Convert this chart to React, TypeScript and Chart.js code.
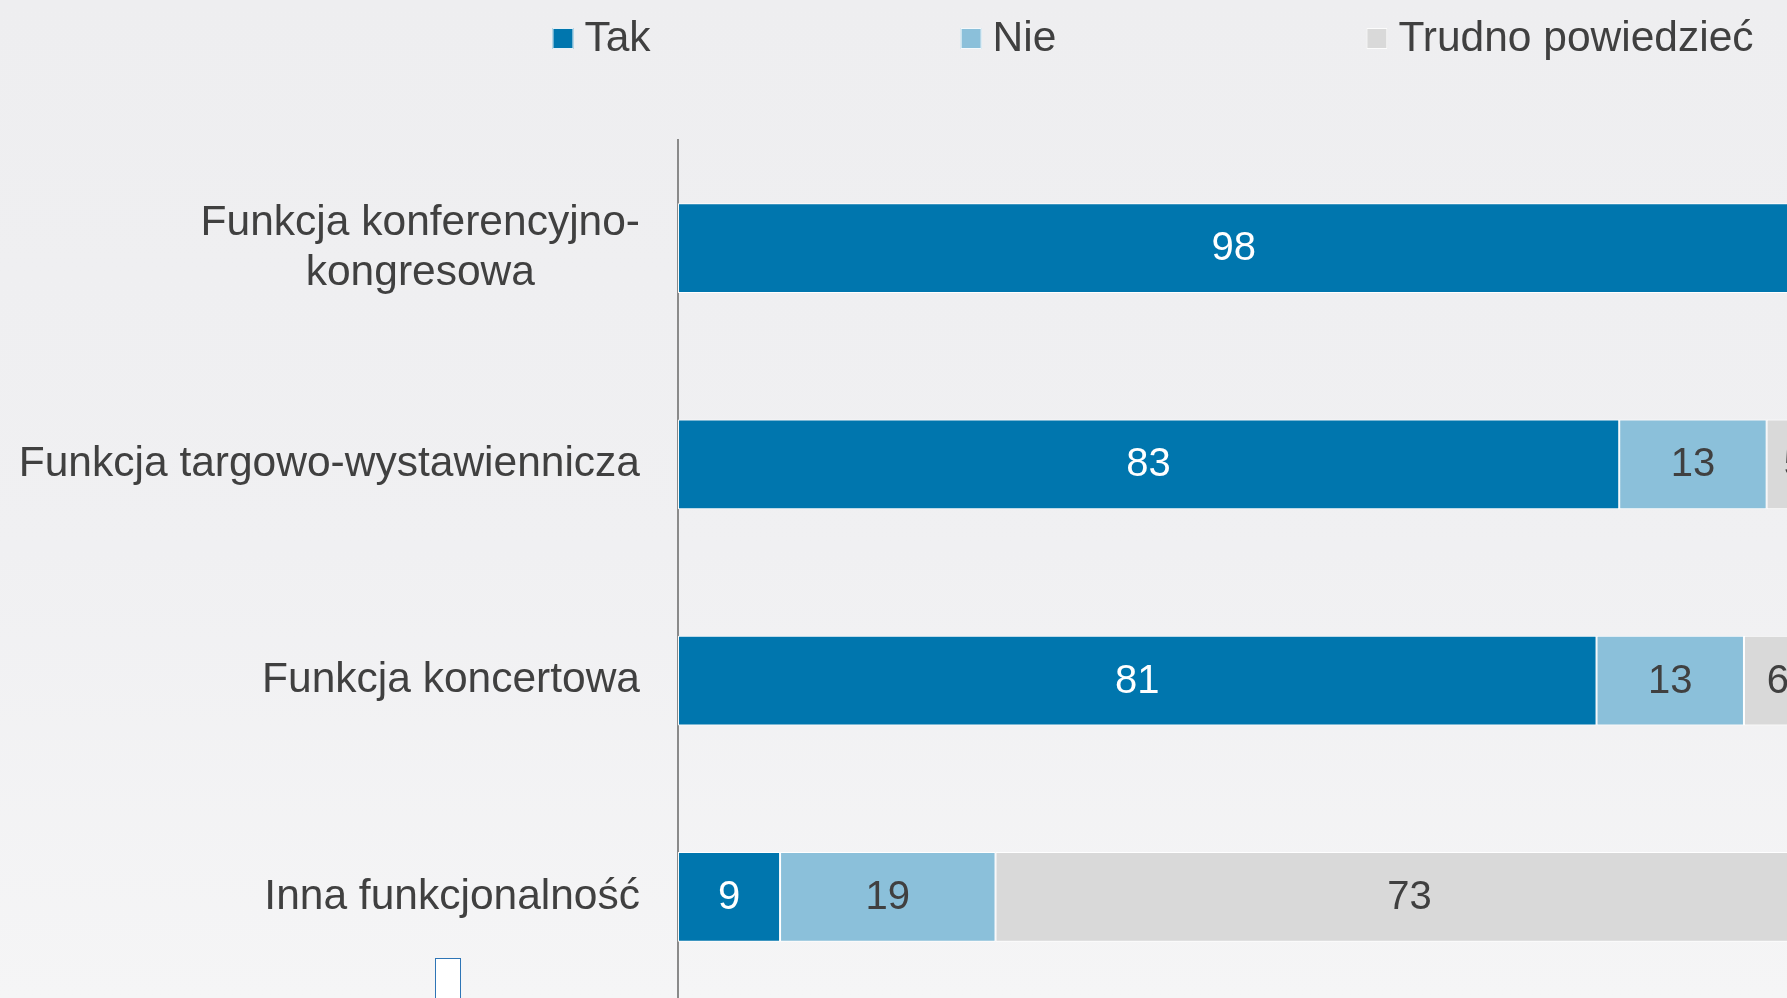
import React, { useEffect, useRef } from 'react';
import { Chart, registerables } from 'chart.js';

Chart.register(...registerables);

const categories: string[][] = [
  ['Funkcja konferencyjno-', 'kongresowa'],
  ['Funkcja targowo-wystawiennicza'],
  ['Funkcja koncertowa'],
  ['Inna funkcjonalność'],
];
const seriesNames = ['Tak', 'Nie', 'Trudno powiedzieć'];
const takValues = [98, 83, 81, 9];
const nieValues = [1, 13, 13, 19];
const trudnoValues = [1, 5, 6, 73];
const seriesColors = ['#0076ae', '#8bc0da', '#d9d9d9'];
const valueLabelColors = ['#ffffff', '#404040', '#404040'];

const FONT = '"Liberation Sans", Arial, Helvetica, sans-serif';
const TEXT = '#404040';

const decorPlugin = {
  id: 'decor',
  afterDatasetsDraw(chart: any) {
    const ctx = chart.ctx;
    ctx.save();
    ctx.font = `40px ${FONT}`;
    ctx.textAlign = 'center';
    ctx.textBaseline = 'middle';
    chart.data.datasets.forEach((ds: any, di: number) => {
      const meta = chart.getDatasetMeta(di);
      meta.data.forEach((bar: any, i: number) => {
        const v = ds.data[i];
        if (v < 3) return;
        const p = bar.getProps(['x', 'base', 'y'], true);
        ctx.fillStyle = valueLabelColors[di];
        ctx.fillText(String(v), (p.x + p.base) / 2, p.y + 1);
      });
    });
    ctx.restore();
  },
  afterDraw(chart: any) {
    const ctx = chart.ctx;
    const area = chart.chartArea;
    const yScale = chart.scales.y;
    // category labels
    ctx.save();
    ctx.font = `42.5px ${FONT}`;
    ctx.fillStyle = TEXT;
    ctx.textBaseline = 'middle';
    ctx.textAlign = 'center';
    const right = area.left - 38;
    categories.forEach((lines, i) => {
      const cy = yScale.getPixelForValue(i);
      const bw = Math.max(...lines.map((l) => ctx.measureText(l).width));
      const cx = right - bw / 2;
      lines.forEach((l, j) => {
        const ty = cy + (j - (lines.length - 1) / 2) * 50;
        ctx.fillText(l, cx, ty);
      });
    });
    ctx.restore();

    // legend
    ctx.save();
    ctx.font = `42.5px ${FONT}`;
    ctx.textBaseline = 'alphabetic';
    ctx.textAlign = 'left';
    const box = 21;
    const gapText = 11;
    const gapItem = 310;
    const widths = chart.data.datasets.map(
      (ds: any) => box + gapText + ctx.measureText(ds.label).width
    );
    const total = widths.reduce((a: number, b: number) => a + b, 0) + gapItem * (widths.length - 1);
    const center = (area.left + area.right) / 2 - 92;
    let x = center - total / 2;
    chart.data.datasets.forEach((ds: any, di: number) => {
      ctx.fillStyle = ds.backgroundColor;
      ctx.fillRect(x, 28, box, box);
      ctx.strokeStyle = 'rgba(255,255,255,0.9)';
      ctx.lineWidth = 1;
      ctx.strokeRect(x + 0.5, 28.5, box - 1, box - 1);
      ctx.fillStyle = TEXT;
      ctx.fillText(ds.label, x + box + gapText, 51);
      x += widths[di] + gapItem;
    });
    ctx.restore();
  },
};

export default function App() {
  const canvasRef = useRef<HTMLCanvasElement | null>(null);

  useEffect(() => {
    if (!canvasRef.current) return;
    const seriesValues = [takValues, nieValues, trudnoValues];
    const chart = new Chart(canvasRef.current, {
      type: 'bar',
      data: {
        labels: categories.map((c) => c.join(' ')),
        datasets: seriesNames.map((name, i) => ({
          label: name,
          data: seriesValues[i],
          backgroundColor: seriesColors[i],
          borderColor: 'rgba(255,255,255,0.95)',
          borderWidth: 1,
          borderSkipped: false,
          categoryPercentage: 1,
          barPercentage: 0.416,
        })),
      },
      options: {
        animation: false,
        responsive: true,
        maintainAspectRatio: false,
        indexAxis: 'y',
        layout: { padding: { top: 140, left: 0, right: 0, bottom: 0 } },
        plugins: {
          legend: { display: false },
          tooltip: { enabled: false },
        },
        scales: {
          x: { stacked: true, min: 0, max: 100, display: false },
          y: {
            stacked: true,
            grid: { display: false, drawTicks: false },
            border: { display: true, color: '#8a8a8a', width: 2 },
            ticks: { display: false },
            afterFit: (s: any) => {
              s.width = 678;
            },
          },
        },
      },
      plugins: [decorPlugin],
    } as any);
    return () => chart.destroy();
  }, []);

  return (
    <div
      style={{
        position: 'fixed',
        left: 0,
        top: 0,
        width: 1787,
        height: 998,
        overflow: 'hidden',
        background: 'linear-gradient(180deg, #eeeef0 0%, #f0f0f2 55%, #f5f5f6 100%)',
      }}
    >
      <div style={{ position: 'absolute', left: 0, top: 0, width: 1812, height: 1005 }}>
        <canvas ref={canvasRef} />
      </div>
      <div
        style={{
          position: 'absolute',
          left: 435,
          top: 958,
          width: 24,
          height: 60,
          border: '1.5px solid #2e75b6',
          background: '#ffffff',
        }}
      />
    </div>
  );
}
